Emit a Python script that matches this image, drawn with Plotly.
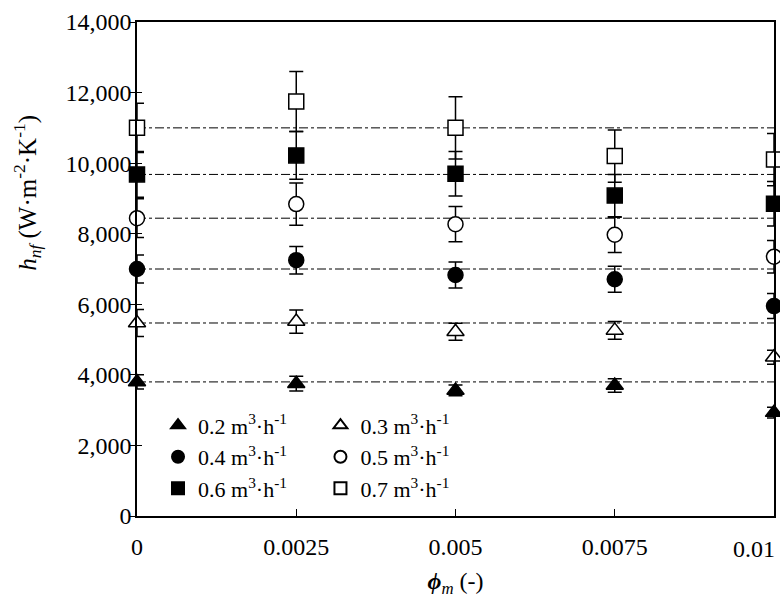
import plotly.graph_objects as go

phi = [0, 0.0025, 0.005, 0.0075, 0.01]
x_tick_vals = [0, 0.0025, 0.005, 0.0075, 0.01]
x_tick_text = ["0", "0.0025", "0.005", "0.0075", "0.01"]

h_02 = [3800, 3750, 3560, 3700, 2930]
e_02 = [200, 210, 150, 190, 150]
h_03 = [5470, 5510, 5220, 5260, 4500]
e_03 = [380, 330, 240, 250, 200]
h_04 = [7000, 7250, 6830, 6710, 5950]
e_04 = [400, 390, 370, 370, 355]
h_05 = [8440, 8840, 8270, 7970, 7350]
e_05 = [550, 600, 500, 500, 460]
h_06 = [9680, 10220, 9700, 9080, 8850]
e_06 = [650, 680, 630, 600, 630]
h_07 = [11000, 11750, 11000, 10200, 10100]
e_07 = [700, 850, 880, 740, 740]

labels = ["0.2", "0.3", "0.4", "0.5", "0.6", "0.7"]
series = [h_02, h_03, h_04, h_05, h_06, h_07]
errors = [e_02, e_03, e_04, e_05, e_06, e_07]
symbols = ["triangle-up", "triangle-up-open", "circle", "circle-open", "square", "square-open"]
legends = ["legend", "legend2", "legend", "legend2", "legend", "legend2"]

FONT = "Liberation Serif, Times New Roman, serif"
FS = 24
LFS = 22

fig = go.Figure()

# dash-dot reference lines at the phi=0 values
for vals in series:
    fig.add_trace(go.Scatter(
        x=[phi[0], phi[-1]], y=[vals[0], vals[0]], mode="lines",
        line=dict(color="black", width=1, dash="dashdot"),
        showlegend=False, hoverinfo="skip", cliponaxis=False))

for lab, vals, err, sym, lg in zip(labels, series, errors, symbols, legends):
    open_ = sym.endswith("open")
    fig.add_trace(go.Scatter(
        x=phi, y=vals, mode="markers",
        name=f"{lab} m<sup>3</sup>·h<sup>-1</sup>",
        legend=lg,
        cliponaxis=False,
        error_y=dict(type="data", array=err, visible=True,
                     color="black", thickness=1.5, width=7),
        marker=dict(symbol=sym.replace("-open", ""), size=15,
                    color="white" if open_ else "black",
                    line=dict(color="black", width=1.5)),
    ))

# invisible helper trace on an overlaid y-axis so its inside ticks show (cross ticks)
fig.add_trace(go.Scatter(x=[phi[0]], y=[h_02[0]], yaxis="y2", mode="markers",
                         marker=dict(opacity=0), showlegend=False, hoverinfo="skip"))

# the last x tick label is drawn as an annotation, kept inside the figure edge
shown_ticktext = x_tick_text[:-1] + [""]
annotations = [
    dict(text=x_tick_text[-1], xref="x", yref="paper", x=x_tick_vals[-1], y=0,
         xanchor="right", yanchor="top", yshift=-18, xshift=3, showarrow=False,
         font=dict(size=FS, family=FONT)),
    dict(text="<i>h</i><sub><i>nf</i></sub> (W·m<sup>-2</sup>·K<sup>-1</sup>)",
         xref="paper", yref="paper", x=-0.172, y=0.655,
         xanchor="center", yanchor="middle", textangle=-90, showarrow=False,
         font=dict(size=25, family=FONT)),
]

fig.update_layout(
    width=780, height=609,
    margin=dict(l=137, r=6, t=22, b=93, autoexpand=False),
    paper_bgcolor="white", plot_bgcolor="white",
    font=dict(family=FONT, size=FS, color="black"),
    showlegend=True,
    legend=dict(x=0.033, y=0.226, xanchor="left", yanchor="top",
                bgcolor="rgba(0,0,0,0)", font=dict(size=LFS, family=FONT),
                itemsizing="constant", tracegroupgap=0),
    legend2=dict(x=0.288, y=0.226, xanchor="left", yanchor="top",
                 bgcolor="rgba(0,0,0,0)", font=dict(size=LFS, family=FONT),
                 itemsizing="constant", tracegroupgap=0),
    xaxis=dict(range=[0, 0.01], tickvals=x_tick_vals, ticktext=shown_ticktext,
               automargin=False,
               ticks="inside", ticklen=7, tickwidth=1, tickcolor="black",
               showgrid=False, zeroline=False, showline=True, linecolor="black",
               linewidth=1.5, mirror=True, ticklabelstandoff=8,
               tickfont=dict(size=FS, family=FONT),
               title=dict(text="<b><i>ϕ</i></b><sub><i>m</i></sub> (-)",
                          font=dict(size=FS, family=FONT), standoff=14)),
    yaxis=dict(range=[0, 14000], dtick=2000, tickformat=",d",
               automargin=False,
               ticks="outside", ticklen=5, tickwidth=1, tickcolor="black",
               showgrid=False, zeroline=False, showline=True, linecolor="black",
               linewidth=1.5, mirror=True, ticklabelstandoff=-6,
               tickfont=dict(size=FS, family=FONT)),
    yaxis2=dict(range=[0, 14000], dtick=2000, overlaying="y", side="left",
                automargin=False,
                ticks="inside", ticklen=5, tickwidth=1, tickcolor="black",
                showticklabels=False, showgrid=False, zeroline=False,
                showline=False),
    annotations=annotations,
)

fig.write_html("out.html", config={"displayModeBar": False},
               post_script="document.body.style.margin='0';")
